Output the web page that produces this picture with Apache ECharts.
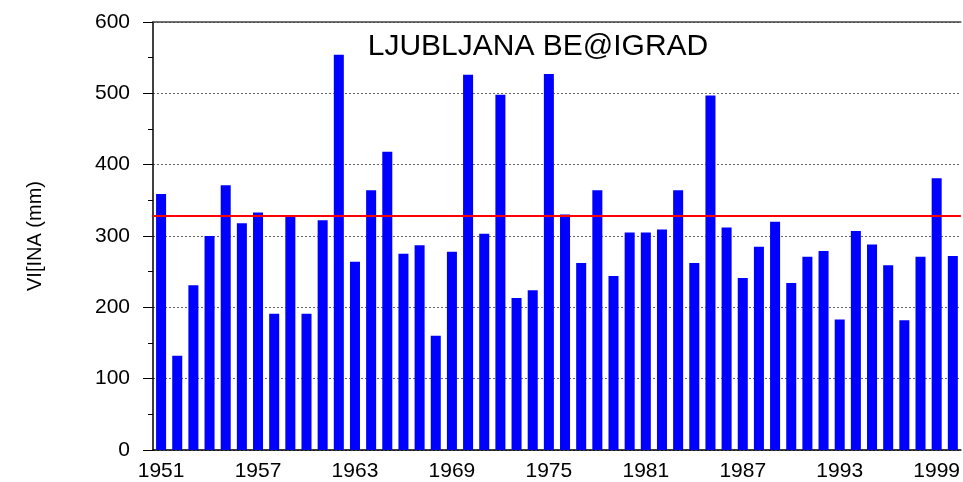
<!DOCTYPE html>
<html>
<head>
<meta charset="utf-8">
<script src="https://cdn.jsdelivr.net/npm/echarts@6/dist/echarts.min.js"></script>
<style>
  html, body { margin: 0; padding: 0; background: #fff; }
  #chart { width: 963px; height: 482px; }
</style>
</head>
<body>
<div id="chart"></div>
<script>
// years 1951 - 2000
const years = [];
for (let y = 1951; y <= 2000; y++) years.push(String(y));

// višina (mm)
const values = [
  359, 132, 231, 300, 371, 318, 333, 191, 329, 191,
  322, 554, 264, 364, 418, 275, 287, 160, 278, 526,
  303, 498, 213, 224, 527, 330, 262, 364, 244, 305,
  305, 309, 364, 262, 497, 312, 241, 285, 320, 234,
  271, 279, 183, 307, 288, 259, 182, 271, 381, 272
];

// average line
const meanValue = 328;

const font = 'Liberation Sans, Arial, sans-serif';

let myChart = echarts.init(document.getElementById('chart'));
myChart.setOption({
  animation: false,
  title: {
    text: 'LJUBLJANA BE@IGRAD',
    left: 533,
    top: 27,
    textAlign: 'center',
    textStyle: { fontFamily: font, fontSize: 30, fontWeight: 'normal', color: '#000' }
  },
  grid: { left: 153, right: 0, top: 22, bottom: 31 },
  xAxis: [
    {
      type: 'category',
      data: years,
      boundaryGap: true,
      axisLine: { lineStyle: { color: '#000', width: 1.5 } },
      axisTick: { alignWithLabel: true, interval: 0, length: 6, lineStyle: { color: '#000' } },
      axisLabel: { interval: 5, color: '#000', fontFamily: font, fontSize: 21, margin: 11 }
    },
    {
      type: 'category',
      position: 'top',
      data: years,
      axisLine: { show: true, lineStyle: { color: '#444', width: 1.5 } },
      axisTick: { show: false },
      axisLabel: { show: false }
    }
  ],
  yAxis: {
    type: 'value',
    min: 0,
    max: 600,
    interval: 100,
    name: 'VI[INA (mm)',
    nameLocation: 'middle',
    nameGap: 108,
    nameTextStyle: { fontFamily: font, fontSize: 20, color: '#000' },
    axisLine: { show: true, lineStyle: { color: '#000', width: 1.5 } },
    axisTick: { show: true, length: 10, lineStyle: { color: '#000' } },
    minorTick: { show: true, splitNumber: 2, length: 5, lineStyle: { color: '#000' } },
    axisLabel: { color: '#000', fontFamily: font, fontSize: 21, margin: 23 },
    splitLine: { show: true, lineStyle: { color: '#666', type: [2, 2], width: 1 } }
  },
  series: [
    {
      type: 'bar',
      data: values,
      barWidth: '62%',
      itemStyle: { color: '#0000ff' },
      markLine: {
        silent: true,
        symbol: 'none',
        label: { show: false },
        lineStyle: { color: '#ff0000', width: 2, type: 'solid' },
        data: [{ yAxis: meanValue }]
      }
    }
  ]
});
</script>
</body>
</html>
